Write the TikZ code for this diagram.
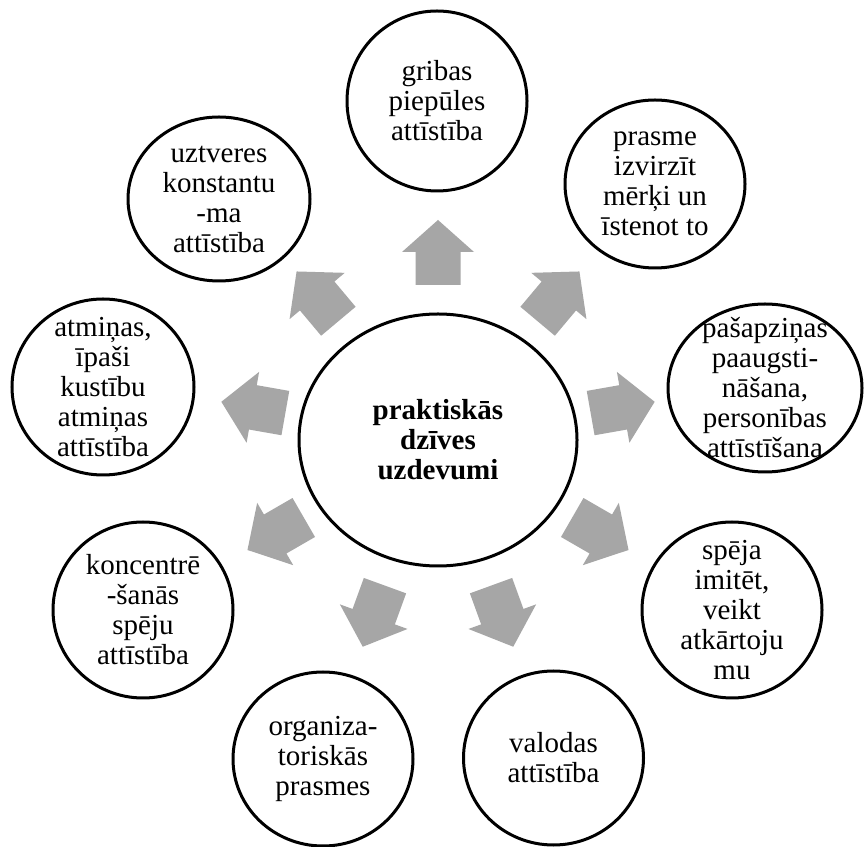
\documentclass[tikz,border=0pt]{standalone}
\usepackage{fontspec}
\setmainfont{Liberation Serif}
\usetikzlibrary{shapes.geometric,calc}
\definecolor{arrowgray}{RGB}{166,166,166}
\tikzset{
  bubble/.style={ellipse, draw=black, line width=3pt, inner sep=0pt, fill=white},
  bubbletext/.style={align=center, inner sep=0pt, font=\fontsize{29}{30}\selectfont},
  centertext/.style={align=center, inner sep=0pt, font=\fontsize{29}{30}\selectfont\bfseries},
  blockarrow/.pic={\fill[arrowgray] (0,-22.5) -- (33,-22.5) -- (33,-36) -- (65,0) -- (33,36) -- (33,22.5) -- (0,22.5) -- cycle;}
}
\begin{document}
\begin{tikzpicture}[x=1pt,y=1pt]
\useasboundingbox (0,0) rectangle (867,846);
\fill[white] (0,0) rectangle (867,846);

% centre
\node[bubble, minimum width=278pt, minimum height=252pt] (C) at (438,406) {};
\node[centertext] (Ct) at (C.center) {praktiskās\\dzīves\\uzdevumi};

% outer bubbles
\node[bubble, minimum width=180pt, minimum height=180pt] (n1) at (437,745) {};
\node[bubbletext] (t1) at (n1.center) {gribas\\piepūles\\attīstība};

\node[bubble, minimum width=180pt, minimum height=168pt] (n2) at (655,662) {};
\node[bubbletext] (t2) at (n2.center) {prasme\\izvirzīt\\mērķi un\\īstenot to};

\node[bubble, minimum width=194pt, minimum height=168pt] (n3) at (765,458) {};
\node[bubbletext] (t3) at (n3.center) {pašapziņas\\paaugsti-\\nāšana,\\personības\\attīstīšana};

\node[bubble, minimum width=180pt, minimum height=176pt] (n4) at (732,236) {};
\node[bubbletext] (t4) at (n4.center) {spēja\\imitēt,\\veikt\\atkārtoju\\mu};

\node[bubble, minimum width=180pt, minimum height=174pt] (n5) at (553.5,88) {};
\node[bubbletext] (t5) at (n5.center) {valodas\\attīstība};

\node[bubble, minimum width=180pt, minimum height=174pt] (n6) at (323,87) {};
\node[bubbletext] (t6) at (n6.center) {organiza-\\toriskās\\prasmes};

\node[bubble, minimum width=180pt, minimum height=176pt] (n7) at (143,236) {};
\node[bubbletext] (t7) at (n7.center) {koncentrē\\-šanās\\spēju\\attīstība};

\node[bubble, minimum width=182pt, minimum height=176pt] (n8) at (103,459) {};
\node[bubbletext] (t8) at (n8.center) {atmiņas,\\īpaši\\kustību\\atmiņas\\attīstība};

\node[bubble, minimum width=182pt, minimum height=164pt] (n9) at (219,647) {};
\node[bubbletext] (t9) at (n9.center) {uztveres\\konstantu\\-ma\\attīstība};

% block arrows
\foreach \i/\a in {1/90,2/50,3/10,4/-30,5/-70,6/-110,7/-150,8/170,9/130}{
  \coordinate (a\i) at ($(C.center)+(\a:155)$);
  \pic[rotate=\a] at (a\i) {blockarrow};
}
\end{tikzpicture}
\end{document}
